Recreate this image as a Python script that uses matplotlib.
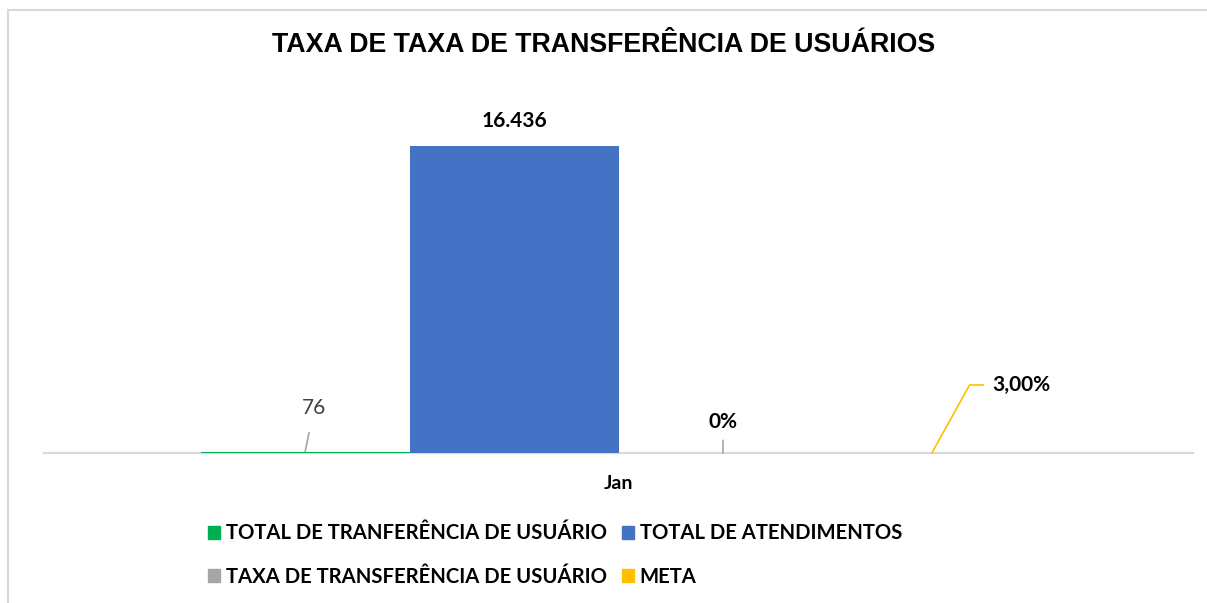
import matplotlib.pyplot as plt
from matplotlib.patches import Patch
from matplotlib.lines import Line2D

# data
categoria = ["Jan"]
series = ["TOTAL DE TRANFERÊNCIA DE USUÁRIO", "TOTAL DE ATENDIMENTOS",
          "TAXA DE TRANSFERÊNCIA DE USUÁRIO", "META"]
valores = [76, 16436, 0.0, 0.03]
rotulos = ["76", "16.436", "0%", "3,00%"]
cores = ["#00b050", "#4472c4", "#a5a5a5", "#ffc000"]

fig = plt.figure(figsize=(12.07, 6.03), dpi=100)
ax = fig.add_axes([0.0365, 0.2488, 0.9519, 0.585])

w = 0.2
offs = [-1.5 * w, -0.5 * w, 0.5 * w, 1.5 * w]
for i in range(4):
    ax.bar(offs[i], valores[i], width=w, color=cores[i], label=series[i],
           zorder=3)

ax.set_xlim(-0.55, 0.55)
ax.set_ylim(0, 18900)
ax.set_yticks([])
ax.set_xticks([0])
ax.set_xticklabels(categoria, fontsize=14, fontweight="bold", family="Lato")
ax.tick_params(axis="x", length=0, pad=16)
for s in ["top", "right", "left"]:
    ax.spines[s].set_visible(False)
ax.spines["bottom"].set_color("#d9d9d9")
ax.spines["bottom"].set_linewidth(1.5)
ax.spines["bottom"].set_zorder(1)

# data labels
ax.annotate(rotulos[0], xy=(offs[0], valores[0]), xytext=(9, 44),
            textcoords="offset pixels", ha="center", va="center",
            fontsize=15, family="Lato", color="#404040",
            arrowprops=dict(arrowstyle="-", color="#a5a5a5", lw=1.2,
                            shrinkA=9, shrinkB=0))
ax.annotate(rotulos[1], xy=(offs[1], valores[1]), xytext=(0, 25),
            textcoords="offset pixels", ha="center", va="center",
            fontsize=15, family="Lato", fontweight="bold", color="black")
ax.annotate(rotulos[2], xy=(offs[2], valores[2]), xytext=(0, 31),
            textcoords="offset pixels", ha="center", va="center",
            fontsize=15, family="Lato", fontweight="bold", color="black",
            arrowprops=dict(arrowstyle="-", color="#a5a5a5", lw=1.2,
                            shrinkA=4, shrinkB=0))
ax.annotate(rotulos[3], xy=(offs[3], valores[3]), xytext=(60, 68),
            textcoords="offset pixels", ha="left", va="center",
            fontsize=15, family="Lato", fontweight="bold", color="black",
            arrowprops=dict(arrowstyle="-", color="#ffc000", lw=1.2,
                            shrinkA=4, shrinkB=0,
                            connectionstyle="angle,angleA=180,angleB=61,rad=0"))

fig.text(0.5, 0.925, "TAXA DE TAXA DE TRANSFERÊNCIA DE USUÁRIOS",
         ha="center", va="center", fontsize=19.3, fontweight="bold",
         family="Liberation Sans")

# legend (column-first order)
ordem = [0, 2, 1, 3]
handles = [Patch(color=cores[i]) for i in ordem]
labels = [series[i] for i in ordem]
fig.legend(handles, labels, ncol=2, loc="center left",
           bbox_to_anchor=(0.164, 0.0795), frameon=False,
           prop=dict(family="Lato", weight="bold", size=14.6),
           handlelength=0.6, handleheight=0.6, handletextpad=0.3,
           columnspacing=0.7, labelspacing=1.15, borderpad=0)

# chart frame (grey border at top and left)
fig.add_artist(Line2D([8 / 1207, 1], [1 - 10 / 603, 1 - 10 / 603],
                      transform=fig.transFigure, color="#d9d9d9", lw=1.5))
fig.add_artist(Line2D([8 / 1207, 8 / 1207], [0, 1 - 10 / 603],
                      transform=fig.transFigure, color="#d9d9d9", lw=1.5))

fig.savefig("out.png", dpi=100)
